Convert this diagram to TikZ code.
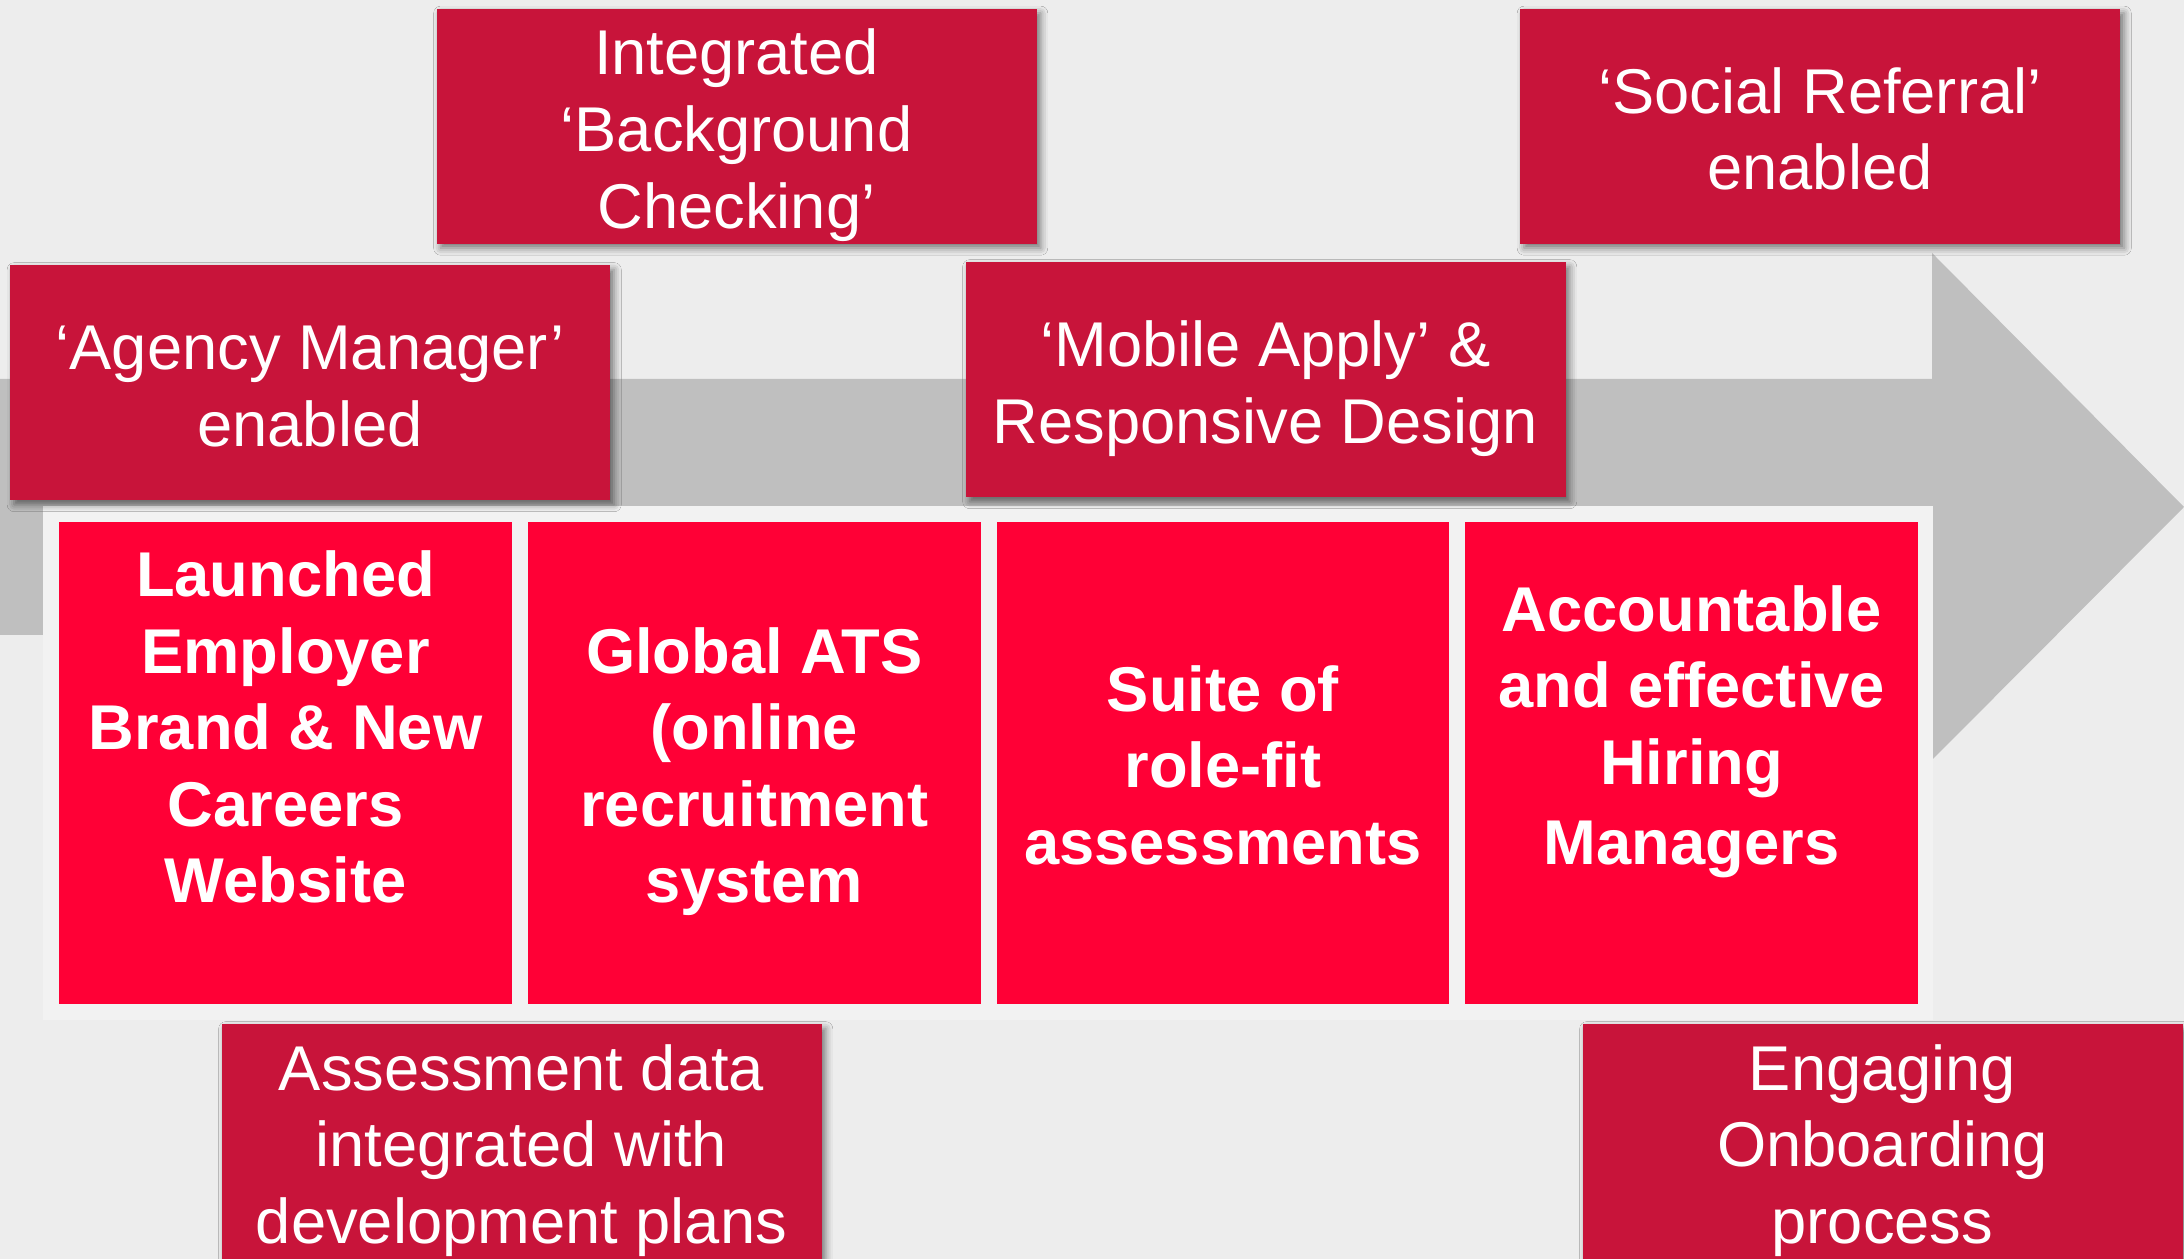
\documentclass[tikz,border=0pt]{standalone}
\usepackage{fontspec}
\setmainfont{Liberation Sans}
\usepackage{tikz}
\usetikzlibrary{positioning,shadows.blur}
\definecolor{pagegrey}{HTML}{EDEDED}
\definecolor{panelgrey}{HTML}{F2F2F2}
\definecolor{arrowgrey}{HTML}{BFBFBF}
\definecolor{milered}{HTML}{C8143A}
\definecolor{steppink}{HTML}{FF0036}
% every text line gets the same height and depth
\newcommand\linestrut{\rule[-3.8pt]{0pt}{21.8pt}}

\begin{document}
\begin{tikzpicture}[x=1cm,y=1cm,
  milestone/.style={fill=milered,text=white,align=center,inner sep=0pt,
    minimum width=6.0cm,minimum height=2.35cm,
    font=\fontsize{18}{21.8}\selectfont,
    blur shadow={shadow xshift=1.2pt,shadow yshift=-1.2pt,
      shadow blur radius=2pt,shadow opacity=50}},
  stepbox/.style={fill=steppink,text=white,align=center,inner sep=0pt,
    outer sep=0pt,minimum width=4.525cm,minimum height=4.82cm,
    font=\bfseries\fontsize{18}{21.8}\selectfont}]
  \fill[pagegrey] (0,0) rectangle (21.84,12.59);
  \useasboundingbox (0,0) rectangle (21.84,12.59);

  % big grey arrow and the light panel in front of it
  \fill[arrowgrey] (0,8.80) -- (19.32,8.80) -- (19.32,10.06) -- (21.84,7.52)
    -- (19.32,4.99) -- (19.32,6.24) -- (0,6.24) -- cycle;
  \fill[panelgrey] (0.43,7.53) rectangle (19.33,2.39);

  \node[stepbox,anchor=north west] (brand) at (0.593,7.37)
    {\linestrut Launched\\\linestrut Employer\\\linestrut Brand \& New\\
     \linestrut Careers\\\linestrut Website\\\linestrut};
  \node[stepbox,right=0.162cm of brand] (ats)
    {\linestrut Global ATS\\\linestrut (online\\\linestrut recruitment\\
     \linestrut system};
  \node[stepbox,right=0.162cm of ats] (rolefit)
    {\linestrut Suite of\\\linestrut role-fit\\\linestrut assessments};
  \node[stepbox,right=0.162cm of rolefit] (hiring)
    {\linestrut Accountable\\\linestrut and effective\\\linestrut Hiring\\
     \linestrut Managers\\\linestrut};

  \node[milestone] (agency) at (3.10,8.76)
    {\linestrut ‘Agency Manager’\\\linestrut enabled};
  \node[milestone] (bgcheck) at (7.365,11.325)
    {\linestrut Integrated\\\linestrut ‘Background\\\linestrut Checking’};
  \node[milestone] (mobile) at (12.655,8.79)
    {\linestrut ‘Mobile Apply’ \&\\\linestrut Responsive Design};
  \node[milestone] (referral) at (18.20,11.325)
    {\linestrut ‘Social Referral’\\\linestrut enabled};
  \node[milestone] (assess) at (5.215,1.17)
    {\linestrut Assessment data\\\linestrut integrated with\\
     \linestrut development plans};
  \node[milestone] (onboard) at (18.825,1.17)
    {\linestrut Engaging\\\linestrut Onboarding\\\linestrut process};
\end{tikzpicture}
\end{document}
